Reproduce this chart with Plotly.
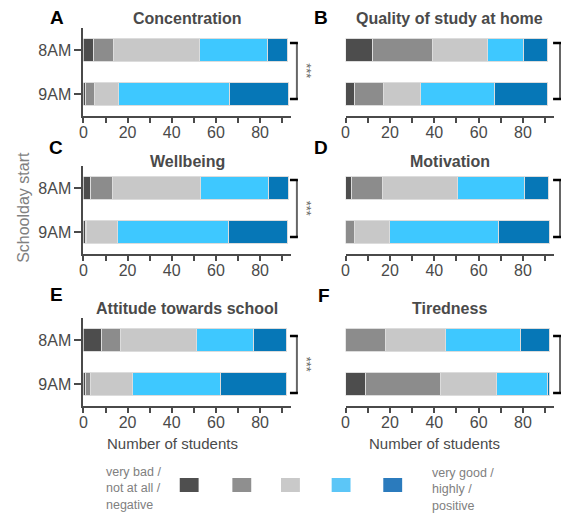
import plotly.graph_objects as go

W, H = 563, 516

# ---------------- data ----------------
times = ["8AM", "9AM"]
levels = ["very bad", "bad", "neutral", "good", "very good"]
panel_letters = ["A", "B", "C", "D", "E", "F"]
panel_titles = ["Concentration", "Quality of study at home", "Wellbeing",
                "Motivation", "Attitude towards school", "Tiredness"]
# counts per level [8AM, 9AM]
concentration = [[4.5, 1], [9, 4], [39, 11], [31, 50], [9, 27]]
quality_home = [[12, 4], [27, 13], [25, 17], [16, 33], [11, 24]]
wellbeing = [[3, 1], [10, 0.6], [40, 14], [31, 50], [9, 27]]
motivation = [[2.5, 0], [14, 4], [34, 16], [30, 49], [11, 23]]
attitude = [[8, 1], [9, 2], [34, 19], [26, 40], [15, 30]]
tiredness = [[0, 9], [18, 34], [27, 25], [34, 23], [13, 1]]
panel_data = [concentration, quality_home, wellbeing, motivation, attitude, tiredness]
significant = [True, True, True, True, True, False]
x_ticks = [0, 20, 40, 60, 80]

bar_colors = ["#4d4d4d", "#8c8c8c", "#c8c8c8", "#3ec8ff", "#0677b7"]
legend_colors = ["#4f4f4f", "#8f8f8f", "#c9c9c9", "#5cc6f7", "#2b7bbd"]

FONT = "Liberation Sans, Arial, sans-serif"


def px(x):
    return x / W


def py(y):
    return 1 - y / H


# panel geometry in pixels
cols = [(80, 289), (344, 554)]
rows = [(28, 116), (166, 254), (318, 406)]

fig = go.Figure()
layout = dict(
    width=W, height=H,
    margin=dict(l=0, r=0, t=0, b=0),
    paper_bgcolor="white", plot_bgcolor="white",
    barmode="stack", bargap=0.48,
    showlegend=False,
    font=dict(family=FONT, color="#4a4a4a", size=16),
)
annotations = []
shapes = []

title_y = [19, 161, 308]
letter_pos = [(53, 18), (319, 18), (52, 147), (319, 147), (53, 294), (322, 295)]
bracket_y = [(43, 99), (43, 99), (180, 237), (180, 237), (336, 393), (336, 393)]


def ann(x, y, text, size, color, **kw):
    d = dict(x=px(x), y=py(y), xref="paper", yref="paper", text=text,
             showarrow=False, font=dict(size=size, color=color),
             xanchor="center", yanchor="middle")
    d.update(kw)
    annotations.append(d)


for i in range(6):
    r, c = divmod(i, 2)
    x0, x1 = cols[c]
    y0, y1 = rows[r]
    ax = "" if i == 0 else str(i + 1)
    for k, lev in enumerate(levels):
        fig.add_trace(go.Bar(
            y=times, x=panel_data[i][k], orientation="h", name=lev,
            marker=dict(color=bar_colors[k], line=dict(color="#dcdcdc", width=1)),
            xaxis="x" + ax, yaxis="y" + ax, hoverinfo="x+y+name",
        ))
    layout["xaxis" + ax] = dict(
        domain=[px(x0), px(x1)], anchor="y" + ax, range=[0, 94],
        tickvals=x_ticks, ticks="outside", ticklen=5, tickwidth=2,
        tickcolor="#4a4a4a", showline=True, linecolor="#4a4a4a", linewidth=2,
        showgrid=False, zeroline=False, ticklabelstandoff=-4,
        minor=dict(dtick=10, tick0=0, ticks="outside", ticklen=5, tickwidth=1.5,
                   tickcolor="#4a4a4a", showgrid=False),
        tickfont=dict(size=16, color="#4a4a4a"),
        fixedrange=True,
    )
    yax = dict(
        domain=[py(y1), py(y0)], anchor="x" + ax, range=[1.5, -0.5],
        type="category", showgrid=False, zeroline=False, fixedrange=True,
    )
    if c == 0:
        yax.update(showline=True, linecolor="#4a4a4a", linewidth=2,
                   ticks="outside", ticklen=7, tickwidth=2, tickcolor="#4a4a4a",
                   tickfont=dict(size=16, color="#4a4a4a"))
    else:
        yax.update(showline=False, showticklabels=False, ticks="")
    layout["yaxis" + ax] = yax

    # panel title
    ann((x0 + x1) / 2, title_y[r], "<b>" + panel_titles[i] + "</b>", 16, "#4a4a4a")
    # panel letter
    lx, ly = letter_pos[i]
    ann(lx, ly, "<b>" + panel_letters[i] + "</b>", 19, "black")
    # bracket
    bx = x1 + 6
    by0, by1 = bracket_y[i]
    shapes.append(dict(type="line", xref="paper", yref="paper",
                       x0=px(bx), x1=px(bx), y0=py(by0), y1=py(by1),
                       line=dict(color="#666666", width=2)))
    for yy in (by0, by1):
        shapes.append(dict(type="line", xref="paper", yref="paper",
                           x0=px(bx - 7), x1=px(bx + 1), y0=py(yy), y1=py(yy),
                           line=dict(color="black", width=2.5)))
    if significant[i]:
        ann(bx + 10, (by0 + by1) / 2, "***", 13, "#666666", textangle=90)

# axis titles
ann(19, 207, "Schoolday start", 16, "#808080", textangle=-90)
for c in range(2):
    x0, x1 = cols[c]
    ann((x0 + x1) / 2 - 15, 443, "Number of students", 15, "#4a4a4a")

# legend
leg_x = [177, 230, 279, 330, 382]
for k in range(5):
    shapes.append(dict(type="rect", xref="paper", yref="paper",
                       x0=px(leg_x[k]), x1=px(leg_x[k] + 19), y0=py(478), y1=py(492),
                       fillcolor=legend_colors[k], line=dict(width=0)))
ann(101, 488, "very bad /<br>not at all /<br>negative", 12.5, "#808080",
    align="left", xanchor="left")
ann(429, 489, "very good /<br>highly /<br>positive", 12.5, "#808080",
    align="left", xanchor="left")

layout["annotations"] = annotations
layout["shapes"] = shapes
fig.update_layout(**layout)
fig.write_html(
    "out.html",
    config={"displayModeBar": False},
    post_script="document.body.style.margin='0';document.body.style.overflow='hidden';",
)
